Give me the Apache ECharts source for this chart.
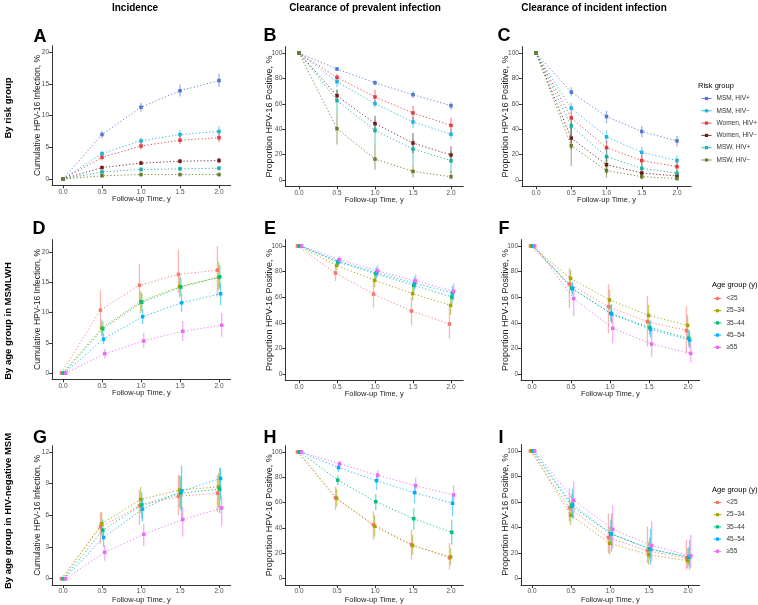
<!DOCTYPE html>
<html><head><meta charset="utf-8">
<script src="https://cdn.jsdelivr.net/npm/echarts@6/dist/echarts.min.js"></script>
<style>html,body{margin:0;padding:0;background:#fff}#c{width:758px;height:605px}</style>
</head><body><div id="c"></div>
<script>
// ---------------- data ----------------
const followUp = [0, 0.5, 1.0, 1.5, 2.0];
const xTickValues = [0, 0.5, 1.0, 1.5, 2.0];
const cumTicksAD = [0, 5, 10, 15, 20];
const cumTicksG = [0, 3, 6, 9, 12];
const propTicks = [0, 20, 40, 60, 80, 100];
const riskGroups = ['MSM, HIV+', 'MSM, HIV\u2212', 'Women, HIV+', 'Women, HIV\u2212', 'MSW, HIV+', 'MSW, HIV\u2212'];
const ageGroups = ['<25', '25\u201334', '35\u201344', '45\u201354', '\u226555'];

// Panel A: incidence by risk group
const A_mean = [[0,7.0,11.3,13.9,15.5],[0,4.0,6.0,7.0,7.5],[0,3.4,5.2,6.1,6.5],[0,1.8,2.5,2.8,2.9],[0,1.1,1.5,1.6,1.7],[0,0.5,0.7,0.7,0.7]];
const A_lo   = [[0,6.4,10.6,13.0,14.5],[0,3.6,5.5,6.4,6.8],[0,2.9,4.6,5.5,5.8],[0,1.5,2.2,2.4,2.5],[0,0.8,1.1,1.2,1.3],[0,0.3,0.4,0.4,0.4]];
const A_hi   = [[0,7.6,12.0,14.9,16.6],[0,4.4,6.5,7.7,8.3],[0,3.9,5.8,6.8,7.3],[0,2.1,2.9,3.2,3.4],[0,1.4,1.9,2.0,2.1],[0,0.8,1.0,1.0,1.0]];
// Panel B: clearance of prevalent infection by risk group
const B_mean = [[100,87.4,76.6,67.2,58.5],[100,77.4,60.1,45.7,36],[100,80.8,65.4,52.8,43],[100,66.4,44.4,29.1,19.7],[100,62.5,39.1,24.4,15.2],[100,40.4,16.5,6.8,2.6]];
const B_lo   = [[100,86,74.5,64.5,55.5],[100,73,57,41,32],[100,78,61,46,37],[100,62,37,21,13.4],[100,52,26.5,13.4,5.5],[100,28,8,2,0.5]];
const B_hi   = [[100,88.8,78.5,69.8,61.5],[100,81,63,50,40],[100,83.5,71,58.5,49],[100,71,50.6,37,26.5],[100,71,47.5,31.8,22.6],[100,52,27,13,7]];
// Panel C: clearance of incident infection by risk group
const C_mean = [[100,69.2,50,38.2,30.8],[100,56.6,34,21.8,15.3],[100,48.9,25.5,15.3,10.5],[100,33,12,5.5,3.2],[100,42.6,18.4,9.2,5.3],[100,27,7.4,2.6,1.1]];
const C_lo   = [[100,66,44.7,33.7,26.3],[100,52.9,29,17,12],[100,43,20,10.5,6.6],[100,24,5,2,1],[100,31,10.5,4,2],[100,11,1.6,0.3,0]];
const C_hi   = [[100,73,54.5,42.6,34.7],[100,60.8,39,26,19],[100,54,31,20,14.5],[100,42,20,10,6.5],[100,51,26,15,9],[100,45,16,7,3.5]];
// Panel D: incidence by age, MSMLWH
const D_mean = [[0,10.4,14.5,16.3,17.0],[0,7.4,11.8,14.3,15.8],[0,7.3,11.7,14.2,15.9],[0,5.6,9.3,11.6,13.1],[0,3.2,5.3,6.9,7.9]];
const D_lo   = [[0,7.4,11.2,13.3,12.6],[0,6,9.9,12.5,13.7],[0,6.2,10.3,12.8,14],[0,4.8,8.1,10.1,11.2],[0,2.4,4.2,5.3,6]];
const D_hi   = [[0,13.7,18,20.4,21],[0,8.7,13.5,16,18.3],[0,8.5,13.2,15.8,17.8],[0,6.5,10.5,13,14.8],[0,4,6.6,8.6,9.9]];
// Panel E
const E_mean = [[100,78.9,62.5,49.2,39.1],[100,84.9,73.2,62.8,53.6],[100,87.5,78.4,69.3,60.2],[100,88,79.2,71,63.3],[100,89.3,80.5,72.7,64.6]];
const E_lo   = [[100,72.7,52,38,27.6],[100,81,68,57.5,46],[100,84.5,74,64,55],[100,85,75,66,57.5],[100,86,76,67,57.5]];
const E_hi   = [[100,85,73,60,52],[100,88,77,68,60],[100,90.5,82.5,74,65.5],[100,91,83.5,76,69],[100,92,85,78,70.6]];
// Panel F
const F_mean = [[100,70.3,52.6,40.9,33.9],[100,74.7,57.8,45.8,38],[100,67,47.4,36.2,27.9],[100,66.7,46.9,34.9,26.6],[100,58.9,35.7,23.4,16.1]];
const F_lo   = [[100,51.3,31.8,21.4,16],[100,68,50,37,29],[100,63,41,30.5,21.4],[100,61.5,39.5,28.5,20],[100,45.3,24,13.5,8.9]];
const F_hi   = [[100,82.6,70,61,53],[100,81,65.6,54,46],[100,70.8,54,41.7,34.4],[100,72,54.5,41.5,33.5],[100,68.8,48.7,33.9,26.6]];
// Panel G: incidence by age, HIV-negative MSM
const G_mean = [[0,4.9,6.9,7.8,8.1],[0,5.2,7.5,8.4,8.7],[0,4.6,7,8.1,8.5],[0,3.9,6.6,8.3,9.5],[0,2.5,4.2,5.6,6.7]];
const G_lo   = [[0,3.3,5.1,6,6.3],[0,4.1,6.2,6.7,6.7],[0,3.7,5.7,6.5,6.2],[0,3.0,5.4,5.7,7.5],[0,1.7,3.1,4.0,5.0]];
const G_hi   = [[0,6.3,8.4,9.8,9.8],[0,6.3,8.7,9.8,10],[0,5.6,8.2,9.7,10.5],[0,4.6,7.6,10.7,10.5],[0,3.2,5.2,6.8,7.8]];
// Panel H
const H_mean = [[100,64,42.6,26.9,16.4],[100,63.4,41.3,26.1,17.2],[100,77.8,60.8,47.3,36.6],[100,87.7,77.3,67.9,59.5],[100,90.6,81.7,73.4,66.1]];
const H_lo   = [[100,54.3,30.8,15.1,7.3],[100,57,33,19,11],[100,73.9,54.3,38.6,26.9],[100,84.3,70,59.5,49],[100,87.7,77.3,67.4,58.2]];
const H_hi   = [[100,72.6,53,38.6,28.2],[100,71,50,34.7,24],[100,81.7,66.8,55.6,46.5],[100,90.9,83,75,67.4],[100,93.5,85.6,79.9,73.9]];
// Panel I
const I_mean = [[100,55.4,32.1,21.8,16.1],[100,49.7,27.7,18.7,14],[100,56.7,35,23.3,16.8],[100,58,35,23,16.8],[100,61.4,38.6,25.9,17.9]];
const I_lo   = [[100,44.6,20,12.2,7],[100,42,18.7,10.9,8.3],[100,48.4,26.4,15.5,10],[100,47,21,11,7],[100,47.2,23.8,13.5,8.3]];
const I_hi   = [[100,70.5,51,40.7,30.3],[100,60,40.7,29,23.8],[100,66.6,45.9,32,24.5],[100,70.5,51,39,30],[100,76.2,57.5,44.6,34.2]];

// ---------------- styles / layout ----------------
const FONT = '"Liberation Sans", Arial, Helvetica, sans-serif';
const riskColors = ['#4F78D2', '#1DB2E2', '#E23A3E', '#711A1A', '#1FAF9F', '#6A7F2E'];
const ageColors = ['#F8766D', '#A3A500', '#00BF7D', '#00B0F6', '#E76BF3'];
const ageDodge = [-0.02, -0.005, 0.01, 0.02, 0.035];
const cumName = 'Cumulative HPV-16 Infection, %';
const propName = 'Proportion HPV-16 Positive, %';

const panels = [
  {id:'A', mean:A_mean, lo:A_lo, hi:A_hi, risk:true,  yName:cumName,  yMin:-1,    yMax:21,    ticks:cumTicksAD, xGap:9.5, L:{x0:63, x2:219,xmin:-0.14,xmax:2.15,y0:179,ppu:6.35}},
  {id:'B', mean:B_mean, lo:B_lo, hi:B_hi, risk:true,  yName:propName, yMin:-5,    yMax:105,   ticks:propTicks,  xGap:9.5, L:{x0:299,x2:451,xmin:-0.18,xmax:2.16,y0:180,ppu:1.27}},
  {id:'C', mean:C_mean, lo:C_lo, hi:C_hi, risk:true,  yName:propName, yMin:-5,    yMax:105,   ticks:propTicks,  xGap:9.5, L:{x0:536,x2:677,xmin:-0.2, xmax:2.2, y0:180,ppu:1.27}},
  {id:'D', mean:D_mean, lo:D_lo, hi:D_hi, risk:false, yName:cumName,  yMin:-1.05, yMax:22.05, ticks:cumTicksAD, xGap:9.5, L:{x0:63, x2:219,xmin:-0.14,xmax:2.15,y0:373,ppu:6.05}},
  {id:'E', mean:E_mean, lo:E_lo, hi:E_hi, risk:false, yName:propName, yMin:-5,    yMax:105,   ticks:propTicks,  xGap:9.5, L:{x0:299,x2:451,xmin:-0.18,xmax:2.16,y0:374,ppu:1.28}},
  {id:'F', mean:F_mean, lo:F_lo, hi:F_hi, risk:false, yName:propName, yMin:-5,    yMax:105,   ticks:propTicks,  xGap:9.5, L:{x0:532,x2:688,xmin:-0.14,xmax:2.15,y0:374,ppu:1.28}},
  {id:'G', mean:G_mean, lo:G_lo, hi:G_hi, risk:false, yName:cumName,  yMin:-0.6,  yMax:12.6,  ticks:cumTicksG,  xGap:11,  L:{x0:63, x2:219,xmin:-0.14,xmax:2.15,y0:579,ppu:10.58}},
  {id:'H', mean:H_mean, lo:H_lo, hi:H_hi, risk:false, yName:propName, yMin:-5,    yMax:105,   ticks:propTicks,  xGap:11,  L:{x0:299,x2:451,xmin:-0.18,xmax:2.16,y0:579,ppu:1.27}},
  {id:'I', mean:I_mean, lo:I_lo, hi:I_hi, risk:false, yName:propName, yMin:-5,    yMax:105,   ticks:propTicks,  xGap:11,  L:{x0:532,x2:688,xmin:-0.14,xmax:2.15,y0:580,ppu:1.29}}
];

const grids = [], xAxes = [], yAxes = [], series = [];
panels.forEach((p, i) => {
  const L = p.L, k = (L.x2 - L.x0) / 2;
  const isCum = p.yName === cumName;
  grids.push({left: L.x0 + L.xmin * k, width: (L.xmax - L.xmin) * k,
              top: L.y0 - p.yMax * L.ppu, height: (p.yMax - p.yMin) * L.ppu});
  xAxes.push({type:'value', gridIndex:i, min:L.xmin, max:L.xmax,
    splitLine:{show:false},
    axisLine:{show:true, onZero:false, lineStyle:{color:'#333', width:1}},
    axisTick:{show:true, length:3, customValues:xTickValues, lineStyle:{color:'#333'}},
    axisLabel:{customValues:xTickValues, formatter:v => v.toFixed(1), fontSize:6.5, color:'#4D4D4D', margin:3, fontFamily:FONT},
    name:'Follow-up Time, y', nameLocation:'middle', nameGap:p.xGap, nameMoveOverlap:false,
    nameTextStyle:{fontSize:7.5, color:'#1a1a1a', fontFamily:FONT}});
  yAxes.push({type:'value', gridIndex:i, min:p.yMin, max:p.yMax,
    splitLine:{show:false},
    axisLine:{show:true, onZero:false, lineStyle:{color:'#333', width:1}},
    axisTick:{show:true, length:3, customValues:p.ticks, lineStyle:{color:'#333'}},
    axisLabel:{customValues:p.ticks, fontSize:6.5, color:'#4D4D4D', margin:3, fontFamily:FONT},
    name:p.yName, nameLocation:'middle', nameRotate:90, nameGap:isCum ? 10 : 11.5, nameMoveOverlap:false,
    nameTextStyle:{fontSize:isCum ? 8.5 : 9, color:'#1a1a1a', fontFamily:FONT}});
  const groups = p.risk ? riskGroups : ageGroups;
  const colors = p.risk ? riskColors : ageColors;
  groups.forEach((g, gi) => {
    const d = p.risk ? 0 : ageDodge[gi];
    const col = colors[gi];
    series.push({type:'line', name:g, xAxisIndex:i, yAxisIndex:i,
      data: followUp.map((t, j) => [t + d, p.mean[gi][j]]),
      symbol:'rect', symbolSize:3.5, showSymbol:true,
      lineStyle:{color:col, width:1, type:[1.2, 2.2], opacity:0.9},
      itemStyle:{color:col}, z:3, animation:false, silent:true});
    series.push({type:'custom', name:g, xAxisIndex:i, yAxisIndex:i,
      data: followUp.map((t, j) => [t + d, p.lo[gi][j], p.hi[gi][j]]),
      encode:{x:0, y:[1, 2]}, z:2, animation:false, silent:true,
      renderItem:(params, api) => {
        const x = api.value(0);
        const a = api.coord([x, api.value(1)]);
        const b = api.coord([x, api.value(2)]);
        return {type:'line', shape:{x1:a[0], y1:a[1], x2:b[0], y2:b[1]},
                style:{stroke:col, lineWidth:1.3, opacity:0.55}};
      }});
  });
});

const legendBase = {orient:'vertical', itemWidth:10, itemHeight:4, itemGap:5.3, padding:0,
  textStyle:{fontSize:6.5, color:'#333', fontFamily:FONT},
  lineStyle:{type:'solid', width:1}, selectedMode:false};
const legends = [
  Object.assign({}, legendBase, {data:riskGroups, left:701, top:95}),
  Object.assign({}, legendBase, {data:ageGroups, left:713, itemWidth:8, top:295, itemGap:5.2}),
  Object.assign({}, legendBase, {data:ageGroups, left:713, itemWidth:8, top:499, itemGap:5.2})
];

const gfx = [];
function addText(t, x, y, font, rot, align) {
  gfx.push({type:'text', x:x, y:y, rotation:rot || 0, silent:true,
    style:{text:t, font:font, fill:'#000', align:align || 'center', textAlign:align || 'center',
           verticalAlign:'middle', textVerticalAlign:'middle'}});
}
const titleFont = 'bold 10px ' + FONT;
const rowFont = 'bold 9.5px ' + FONT;
addText('Incidence', 135, 8, titleFont);
addText('Clearance of prevalent infection', 365, 8, titleFont);
addText('Clearance of incident infection', 594, 8, titleFont);
addText('By risk group', 8, 108, rowFont, Math.PI / 2);
addText('By age group in MSMLWH', 8, 321, rowFont, Math.PI / 2);
addText('By age group in HIV-negative MSM', 8, 511, rowFont, Math.PI / 2);
const letterFont = 'bold 18px ' + FONT;
[['A',40,37],['B',270,36],['C',504,36],['D',39,229],['E',270,229],['F',504,229],['G',40,438],['H',270,438],['I',501,438]]
  .forEach(l => addText(l[0], l[1], l[2], letterFont));
const legTitleFont = '7.5px ' + FONT;
addText('Risk group', 698, 86, legTitleFont, 0, 'left');
addText('Age group (y)', 712, 285, legTitleFont, 0, 'left');
addText('Age group (y)', 712, 490, legTitleFont, 0, 'left');

const chart = echarts.init(document.getElementById('c'), null, {renderer:'canvas'});
chart.setOption({
  animation:false, backgroundColor:'#fff',
  grid:grids, xAxis:xAxes, yAxis:yAxes, series:series,
  legend:legends, graphic:gfx
});
</script>
</body></html>
